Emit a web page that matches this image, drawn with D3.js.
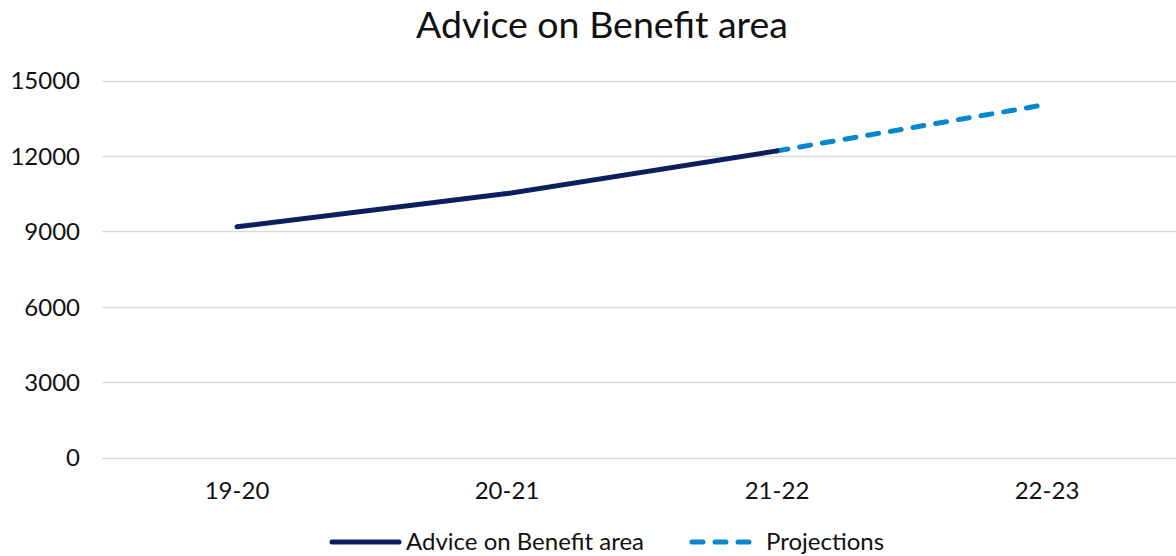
<!DOCTYPE html>
<html>
<head>
<meta charset="utf-8">
<script src="https://cdn.jsdelivr.net/npm/d3@7"></script>
<style>
  html, body { margin: 0; padding: 0; background: #fff; }
  svg { display: block; font-family: Lato, "Open Sans", sans-serif; }
</style>
</head>
<body>
<svg id="chart" width="1176" height="556"></svg>
<script>
// Yearly figures for advice on benefits
const categories = ["19-20", "20-21", "21-22", "22-23"];
const actualValues = [9180, 10500, 12200, null];
const projectionValues = [null, null, 12200, 14050];
const yTicks = [0, 3000, 6000, 9000, 12000, 15000];
const seriesNames = ["Advice on Benefit area", "Projections"];

const svg = d3.select("#chart");
const plot = { left: 102, right: 1182, top: 80.5, bottom: 457.5 };

const x = d3.scaleBand().domain(categories).range([plot.left, plot.right]).padding(0);
const y = d3.scaleLinear().domain([0, 15000]).range([plot.bottom, plot.top]);

// Title
svg.append("text")
  .attr("x", 602).attr("y", 38)
  .attr("text-anchor", "middle")
  .attr("font-size", 37.5)
  .attr("fill", "#111")
  .text("Advice on Benefit area");

// Horizontal gridlines
svg.append("g")
  .selectAll("line")
  .data(yTicks)
  .join("line")
  .attr("x1", plot.left).attr("x2", plot.right)
  .attr("y1", d => Math.round(y(d)) + 0.5)
  .attr("y2", d => Math.round(y(d)) + 0.5)
  .attr("stroke", "#d9d9d9")
  .attr("stroke-width", 1.5);

// Y axis labels
const yAxis = d3.axisLeft(y).tickValues(yTicks).tickFormat(d3.format("d")).tickSize(0).tickPadding(0);
svg.append("g")
  .attr("transform", `translate(80,0)`)
  .call(yAxis)
  .call(g => g.select(".domain").remove())
  .call(g => g.selectAll("text")
    .attr("font-size", 24)
    .attr("font-family", "Lato, sans-serif")
    .attr("fill", "#111")
    .attr("dy", "0.35em"));

// X axis labels
const xAxis = d3.axisBottom(x).tickSize(0).tickPadding(0);
svg.append("g")
  .attr("transform", `translate(0,${plot.bottom + 33})`)
  .call(xAxis)
  .call(g => g.select(".domain").remove())
  .call(g => g.selectAll("text")
    .attr("font-size", 24)
    .attr("font-family", "Lato, sans-serif")
    .attr("fill", "#111")
    .attr("dy", "0.35em"));

const lineGen = d3.line()
  .defined(d => d.v != null)
  .x(d => x(d.c) + x.bandwidth() / 2)
  .y(d => y(d.v));

const toPts = vals => categories.map((c, i) => ({ c, v: vals[i] }));

// Projection line (dashed)
svg.append("path")
  .datum(toPts(projectionValues))
  .attr("d", lineGen)
  .attr("fill", "none")
  .attr("stroke", "#0a86cc")
  .attr("stroke-width", 5)
  .attr("stroke-linecap", "round")
  .attr("stroke-dasharray", "11 12");

// Actual line (solid)
svg.append("path")
  .datum(toPts(actualValues))
  .attr("d", lineGen)
  .attr("fill", "none")
  .attr("stroke", "#0b1f5e")
  .attr("stroke-width", 5)
  .attr("stroke-linecap", "round")
  .attr("stroke-linejoin", "round");

// Legend
const legend = svg.append("g").attr("transform", "translate(0,542)");
legend.append("line")
  .attr("x1", 332).attr("x2", 399).attr("y1", 0).attr("y2", 0)
  .attr("stroke", "#0b1f5e").attr("stroke-width", 5).attr("stroke-linecap", "round");
legend.append("text")
  .attr("x", 406).attr("y", 0).attr("dy", "0.35em")
  .attr("font-size", 24).attr("fill", "#111")
  .text(seriesNames[0]);
legend.append("line")
  .attr("x1", 692).attr("x2", 752).attr("y1", 0).attr("y2", 0)
  .attr("stroke", "#0a86cc").attr("stroke-width", 5).attr("stroke-linecap", "round")
  .attr("stroke-dasharray", "11 12");
legend.append("text")
  .attr("x", 766).attr("y", 0).attr("dy", "0.35em")
  .attr("font-size", 24).attr("fill", "#111")
  .text(seriesNames[1]);
</script>
</body>
</html>
